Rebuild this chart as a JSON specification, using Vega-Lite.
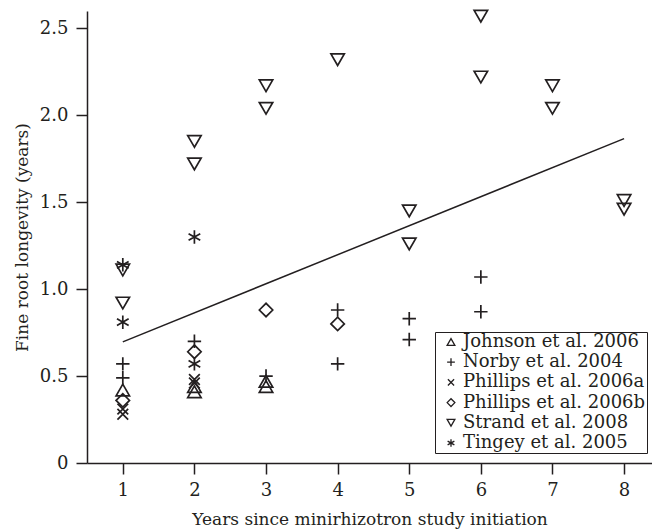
{
  "$schema": "https://vega.github.io/schema/vega-lite/v6.json",
  "width": 565,
  "height": 452,
  "autosize": "none",
  "padding": {"left": 87, "top": 11, "right": 0, "bottom": 66},
  "background": "white",
  "config": {
    "view": {"stroke": null},
    "font": "DejaVu Serif",
    "axis": {"grid": false, "domainColor": "#231f20", "tickColor": "#231f20", "domainWidth": 1.5, "tickWidth": 1.5, "labelColor": "#231f20", "titleColor": "#231f20", "labelFont": "DejaVu Serif", "titleFont": "DejaVu Serif", "labelFontSize": 18, "titleFontSize": 17, "titleFontWeight": "normal", "tickSize": 11}
  },
  "datasets": {
    "pts": [
      {"year": 1, "lon": 0.42, "study": "Johnson et al. 2006"},
      {"year": 2, "lon": 0.44, "study": "Johnson et al. 2006"},
      {"year": 2, "lon": 0.41, "study": "Johnson et al. 2006"},
      {"year": 3, "lon": 0.47, "study": "Johnson et al. 2006"},
      {"year": 3, "lon": 0.44, "study": "Johnson et al. 2006"},
      {"year": 1, "lon": 0.57, "study": "Norby et al. 2004"},
      {"year": 1, "lon": 0.49, "study": "Norby et al. 2004"},
      {"year": 2, "lon": 0.70, "study": "Norby et al. 2004"},
      {"year": 3, "lon": 0.50, "study": "Norby et al. 2004"},
      {"year": 4, "lon": 0.88, "study": "Norby et al. 2004"},
      {"year": 4, "lon": 0.57, "study": "Norby et al. 2004"},
      {"year": 5, "lon": 0.83, "study": "Norby et al. 2004"},
      {"year": 5, "lon": 0.71, "study": "Norby et al. 2004"},
      {"year": 6, "lon": 1.07, "study": "Norby et al. 2004"},
      {"year": 6, "lon": 0.87, "study": "Norby et al. 2004"},
      {"year": 1, "lon": 0.31, "study": "Phillips et al. 2006a"},
      {"year": 1, "lon": 0.28, "study": "Phillips et al. 2006a"},
      {"year": 2, "lon": 0.48, "study": "Phillips et al. 2006a"},
      {"year": 2, "lon": 0.46, "study": "Phillips et al. 2006a"},
      {"year": 1, "lon": 0.36, "study": "Phillips et al. 2006b"},
      {"year": 2, "lon": 0.64, "study": "Phillips et al. 2006b"},
      {"year": 3, "lon": 0.88, "study": "Phillips et al. 2006b"},
      {"year": 4, "lon": 0.80, "study": "Phillips et al. 2006b"},
      {"year": 1, "lon": 1.11, "study": "Strand et al. 2008"},
      {"year": 1, "lon": 0.92, "study": "Strand et al. 2008"},
      {"year": 2, "lon": 1.85, "study": "Strand et al. 2008"},
      {"year": 2, "lon": 1.72, "study": "Strand et al. 2008"},
      {"year": 3, "lon": 2.17, "study": "Strand et al. 2008"},
      {"year": 3, "lon": 2.04, "study": "Strand et al. 2008"},
      {"year": 4, "lon": 2.32, "study": "Strand et al. 2008"},
      {"year": 5, "lon": 1.45, "study": "Strand et al. 2008"},
      {"year": 5, "lon": 1.26, "study": "Strand et al. 2008"},
      {"year": 6, "lon": 2.57, "study": "Strand et al. 2008"},
      {"year": 6, "lon": 2.22, "study": "Strand et al. 2008"},
      {"year": 7, "lon": 2.17, "study": "Strand et al. 2008"},
      {"year": 7, "lon": 2.04, "study": "Strand et al. 2008"},
      {"year": 8, "lon": 1.51, "study": "Strand et al. 2008"},
      {"year": 8, "lon": 1.46, "study": "Strand et al. 2008"},
      {"year": 1, "lon": 1.14, "study": "Tingey et al. 2005"},
      {"year": 1, "lon": 0.81, "study": "Tingey et al. 2005"},
      {"year": 2, "lon": 1.30, "study": "Tingey et al. 2005"},
      {"year": 2, "lon": 0.57, "study": "Tingey et al. 2005"}
    ],
    "fit": [
      {"year": 1, "lon": 0.697},
      {"year": 8, "lon": 1.866}
    ]
  },
  "layer": [
    {
      "data": {"name": "fit"},
      "mark": {"type": "line", "color": "#231f20", "strokeWidth": 1.5},
      "encoding": {
        "x": {"field": "year", "type": "quantitative", "scale": {"domain": [0.5, 8.39], "nice": false, "zero": false},
          "axis": {"values": [1, 2, 3, 4, 5, 6, 7, 8], "format": "d", "title": "Years since minirhizotron study initiation", "labelPadding": 7, "titlePadding": 12}},
        "y": {"field": "lon", "type": "quantitative", "scale": {"domain": [0, 2.6], "nice": false},
          "axis": {"values": [0, 0.5, 1, 1.5, 2, 2.5], "labelExpr": "datum.value == 0 ? '0' : format(datum.value, '.1f')", "title": "Fine root longevity (years)", "labelPadding": 8, "titlePadding": 8}}
      }
    },
    {
      "mark": {"type": "rule", "color": "#231f20", "strokeWidth": 1.5},
      "encoding": {"y": {"datum": 2.6}}
    },
    {
      "data": {"name": "pts"},
      "mark": {"type": "point", "filled": false, "stroke": "#231f20", "strokeWidth": 1.7, "opacity": 1},
      "encoding": {
        "x": {"field": "year", "type": "quantitative"},
        "y": {"field": "lon", "type": "quantitative"},
        "shape": {
          "field": "study", "type": "nominal",
          "scale": {
            "domain": ["Johnson et al. 2006", "Norby et al. 2004", "Phillips et al. 2006a", "Phillips et al. 2006b", "Strand et al. 2008", "Tingey et al. 2005"],
            "range": ["triangle-up", "M-1,0H1M0,-1V1", "M-0.8,-0.8L0.8,0.8M-0.8,0.8L0.8,-0.8", "diamond", "triangle-down", "M0,-1V1M-0.87,-0.5L0.87,0.5M-0.87,0.5L0.87,-0.5"]
          },
          "legend": {
            "title": null, "orient": "none", "legendX": 348, "legendY": 321,
            "strokeColor": "#231f20", "padding": 1, "fillColor": "white",
            "labelFont": "DejaVu Serif", "labelFontSize": 18, "labelColor": "#231f20",
            "symbolSize": 60, "symbolStrokeWidth": 1.3, "symbolStrokeColor": "#231f20", "symbolFillColor": "transparent",
            "symbolOffset": 6, "rowPadding": 2.2, "labelOffset": 3, "labelLimit": 400
          }
        },
        "size": {"value": 180}
      }
    }
  ]
}
